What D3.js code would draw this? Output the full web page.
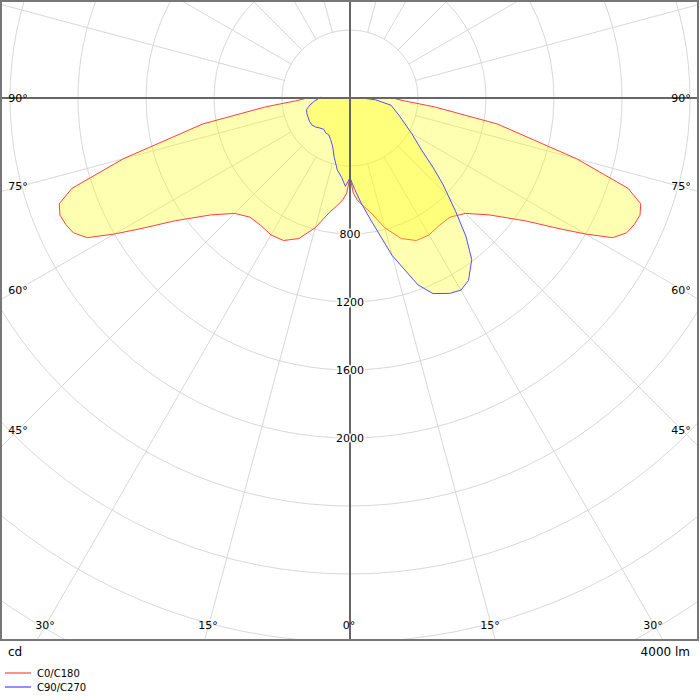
<!DOCTYPE html>
<html><head><meta charset="utf-8">
<script src="https://cdn.jsdelivr.net/npm/d3@7"></script>
<style>body{margin:0;background:#fff}text{font-family:Tahoma,"DejaVu Sans",sans-serif;font-size:11px}</style>
</head><body><svg id="c" width="700" height="700"></svg>
<script>
// angle from nadir (deg, + = right), intensity (cd)
const redAngles = [0,2,4,7,10,15,20,25,30,35,40,45,50,55,58,60,62,64,66,68,70,72,75,80,84,87,90];
const redValues = [465,560,600,640,680,790,880,925,930,915,915,960,1070,1260,1450,1600,1750,1810,1830,1840,1820,1720,1380,880,500,320,250];
const blueAngles = [-92,-85,-80,-75,-70,-60,-55,-50,-45,-40,-35,-30,-25,-20,-15,-10,-6,-3,0,3,6,10,15,20,23,27,30,33,37,40,43,47,50,54,60,70,80,86,90];
const blueValues = [170,210,240,265,270,275,275,265,250,240,250,250,270,300,360,430,470,520,470,540,620,740,960,1170,1250,1290,1305,1280,1190,1060,910,750,640,520,420,310,245,150,70];
const ringValues = [400,800,1200,1600,2000,2400,2800,3200,3600,4000];
const ringLabels = ["800","1200","1600","2000"];
const angleLabels = [
  {t:"90°",x:18,y:98},{t:"90°",x:681,y:98},{t:"75°",x:18,y:186},{t:"75°",x:681,y:186},
  {t:"60°",x:18,y:290},{t:"60°",x:681,y:290},{t:"45°",x:18,y:430},{t:"45°",x:681,y:430},
  {t:"30°",x:45,y:625},{t:"15°",x:208,y:625},{t:"0°",x:349,y:625},{t:"15°",x:490,y:625},{t:"30°",x:653,y:625}];

const svg = d3.select("#c");
const cx = 350, cy = 98;
const r = d3.scaleLinear().domain([0,400]).range([0,68]);
const clip = svg.append("clipPath").attr("id","fr").append("rect").attr("x",1).attr("y",0).attr("width",697).attr("height",640);
const g = svg.append("g").attr("clip-path","url(#fr)");
const pt = (a,v)=>[cx + r(v)*Math.sin(a*Math.PI/180), cy + r(v)*Math.cos(a*Math.PI/180)];

g.selectAll("circle.ring").data(ringValues).join("circle")
 .attr("cx",cx).attr("cy",cy).attr("r",d=>r(d)).attr("fill","none").attr("stroke","#d8d8d8");
const spokes = d3.range(0,360,15).filter(a=>a%90!==0);
g.selectAll("line.sp").data(spokes).join("line")
 .attr("x1",a=>pt(a,400)[0]).attr("y1",a=>pt(a,400)[1])
 .attr("x2",a=>pt(a,8000)[0]).attr("y2",a=>pt(a,8000)[1]).attr("stroke","#d8d8d8");

const line = d3.line().curve(d3.curveLinear);
const redPts = redAngles.map((a,i)=>pt(-a,redValues[i])).reverse().concat(redAngles.slice(1).map((a,i)=>pt(a,redValues[i+1])));
const bluePts = blueAngles.map((a,i)=>pt(a,blueValues[i]));
g.append("path").attr("d",line(redPts)+"Z").attr("fill","rgba(255,255,0,0.3)").attr("stroke","#ff4040");
g.append("path").attr("d",line(bluePts.concat([[cx,cy]]))+"Z").attr("fill","rgba(255,255,0,0.3)").attr("stroke","none");
g.append("path").attr("d",line(bluePts)).attr("fill","none").attr("stroke","#5050ff");

g.append("line").attr("x1",0).attr("x2",700).attr("y1",cy).attr("y2",cy).attr("stroke","#666").attr("stroke-width",2);
g.append("line").attr("x1",cx).attr("x2",cx).attr("y1",0).attr("y2",640).attr("stroke","#666").attr("stroke-width",2);

ringLabels.forEach(l=>{
  g.append("text").attr("x",cx).attr("y",cy+r(+l)+4).attr("text-anchor","middle").attr("fill","#000")
   .attr("stroke","#fff").attr("stroke-width",3).attr("paint-order","stroke").text(l);
});
angleLabels.forEach(d=>{
  svg.append("text").attr("x",d.x).attr("y",d.y+4).attr("text-anchor","middle").attr("fill","#000").text(d.t);
});
svg.append("rect").attr("x",1).attr("y",1).attr("width",697).attr("height",639).attr("fill","none").attr("stroke","#777").attr("stroke-width",2);
svg.append("text").attr("x",8).attr("y",656).style("font-size","12px").text("cd");
svg.append("text").attr("x",690).attr("y",656).attr("text-anchor","end").style("font-size","12px").text("4000 lm");
const leg=[["C0/C180","#ff9090"],["C90/C270","#9090ff"]];
leg.forEach((d,i)=>{
  svg.append("line").attr("x1",5).attr("x2",31).attr("y1",673+i*14).attr("y2",673+i*14).attr("stroke",d[1]).attr("stroke-width",2);
  svg.append("text").attr("x",37).attr("y",677+i*14).style("font-size","10px").text(d[0]);
});
</script></body></html>
